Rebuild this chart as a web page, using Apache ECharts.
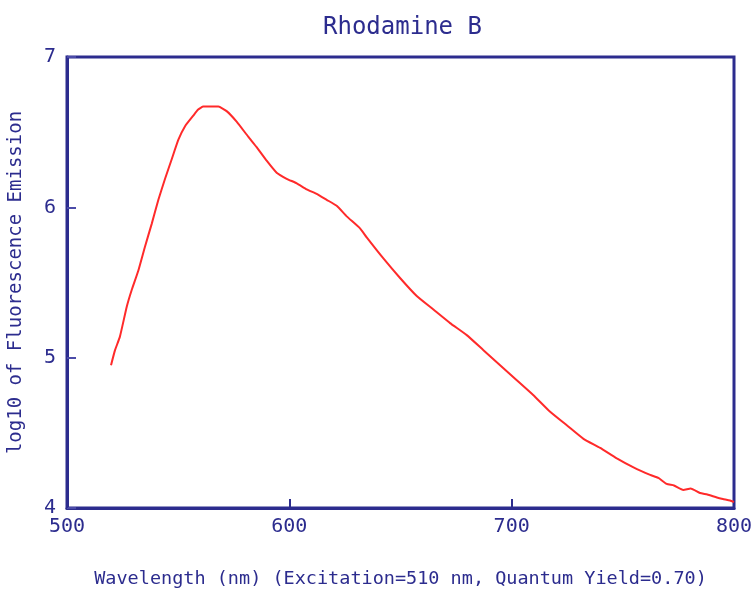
<!DOCTYPE html>
<html>
<head>
<meta charset="utf-8">
<script src="https://cdn.jsdelivr.net/npm/echarts@6/dist/echarts.min.js"></script>
<style>
  html, body { margin: 0; padding: 0; background: #ffffff; }
  #chart { width: 754px; height: 592px; }
</style>
</head>
<body>
<div id="chart"></div>
<script>
// Emission spectrum of Rhodamine B (log10 intensity vs wavelength)
const wavelengths = [
  519.8, 521.6, 523.8, 526.9, 529.1, 532.1, 535.1, 538.1, 541.1, 544.1,
  547.1, 550.1, 553.1, 556.8, 559.0, 561.3, 564.5, 568.1, 571.8, 576.3,
  581.5, 585.3, 589.8, 594.3, 598.8, 603.3, 607.8, 612.3, 616.8, 621.3,
  625.8, 631.8, 634.8, 642.3, 649.8, 657.3, 664.8, 672.3, 679.8, 687.3,
  694.8, 702.3, 709.8, 717.3, 724.8, 732.3, 739.8, 747.3, 754.8, 762.3,
  766.0, 769.7, 773.0, 777.2, 780.5, 784.7, 788.0, 792.3, 795.0, 798.2,
  800.0
];
const logEmission = [
  4.95, 5.05, 5.14, 5.34, 5.45, 5.58, 5.74, 5.89, 6.05, 6.19,
  6.32, 6.45, 6.54, 6.61, 6.65, 6.67, 6.67, 6.67, 6.64, 6.57,
  6.47, 6.40, 6.31, 6.23, 6.19, 6.16, 6.12, 6.09, 6.05, 6.01,
  5.94, 5.86, 5.80, 5.66, 5.53, 5.41, 5.32, 5.23, 5.15, 5.05,
  4.95, 4.85, 4.75, 4.64, 4.55, 4.46, 4.40, 4.33, 4.27, 4.22,
  4.20, 4.16, 4.15, 4.12, 4.13, 4.10, 4.09, 4.07, 4.06, 4.05,
  4.04
];
const xTicks = [500, 600, 700, 800];
const yTicks = [4, 5, 6, 7];

const navy = '#2c2c8e';
const font = 'DejaVu Sans Mono';

const chart = echarts.init(document.getElementById('chart'), null, { renderer: 'canvas' });
chart.setOption({
  animation: false,
  backgroundColor: '#ffffff',
  title: {
    text: 'Rhodamine B',
    left: 318,
    top: 11,
    textStyle: { color: navy, fontFamily: font, fontSize: 24, fontWeight: 'normal' }
  },
  grid: {
    left: 67, right: 20, top: 57, bottom: 84,
    outerBoundsMode: 'none',
    containLabel: false,
    show: true,
    borderColor: navy,
    borderWidth: 3
  },
  xAxis: {
    type: 'value',
    min: xTicks[0],
    max: xTicks[xTicks.length - 1],
    interval: 100,
    name: 'Wavelength (nm) (Excitation=510 nm, Quantum Yield=0.70)',
    nameLocation: 'middle',
    nameGap: 62,
    nameTextStyle: { color: navy, fontFamily: font, fontSize: 18.5 },
    axisLine: { show: true, lineStyle: { color: navy, width: 3 } },
    axisTick: { show: true, inside: true, length: 9, lineStyle: { color: navy, width: 2 } },
    axisLabel: { color: navy, fontFamily: font, fontSize: 20, margin: 9 },
    splitLine: { show: false }
  },
  yAxis: {
    type: 'value',
    min: yTicks[0],
    max: yTicks[yTicks.length - 1],
    interval: 1,
    name: 'log10 of Fluorescence Emission',
    nameLocation: 'middle',
    nameGap: 41,
    nameTextStyle: { color: navy, fontFamily: font, fontSize: 19 },
    axisLine: { show: true, lineStyle: { color: navy, width: 3 } },
    axisTick: { show: true, inside: true, length: 9, lineStyle: { color: '#4b4ba8', width: 2 } },
    axisLabel: { color: navy, fontFamily: font, fontSize: 20, margin: 11 },
    splitLine: { show: false }
  },
  series: [{
    type: 'line',
    data: wavelengths.map((w, i) => [w, logEmission[i]]),
    showSymbol: false,
    smooth: 0.15,
    lineStyle: { color: '#ff2a2a', width: 2 }
  }]
});
</script>
</body>
</html>
